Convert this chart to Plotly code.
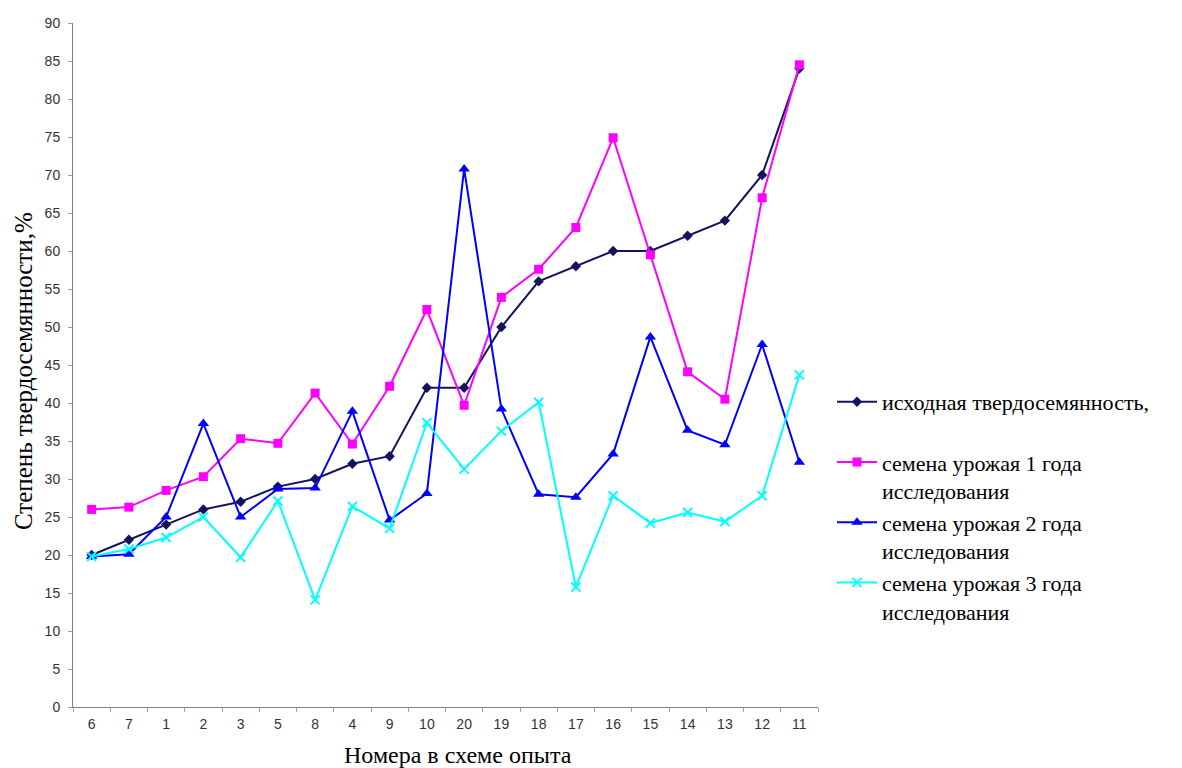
import plotly.graph_objects as go

categories = ["6", "7", "1", "2", "3", "5", "8", "4", "9", "10",
              "20", "19", "18", "17", "16", "15", "14", "13", "12", "11"]

initial = [20, 22, 24, 26, 27, 29, 30, 32, 33, 42,
           42, 50, 56, 58, 60, 60, 62, 64, 70, 84]
year1 = [26.0, 26.3, 28.5, 30.3, 35.3, 34.7, 41.3, 34.6, 42.2, 52.3,
         39.7, 53.9, 57.6, 63.1, 74.9, 59.5, 44.1, 40.5, 67.0, 84.5]
year2 = [19.8, 20.1, 25.0, 37.3, 25.0, 28.7, 28.8, 38.9, 24.6, 28.1,
         70.8, 39.2, 28.0, 27.6, 33.3, 48.7, 36.4, 34.5, 47.7, 32.2]
year3 = [19.8, 20.8, 22.3, 25.0, 19.7, 27.1, 14.1, 26.4, 23.5, 37.4,
         31.3, 36.3, 40.1, 15.8, 27.8, 24.2, 25.6, 24.4, 27.8, 43.7]

names = ["исходная твердосемянность,<br> ",
         "семена урожая 1 года<br>исследования",
         "семена урожая 2 года<br>исследования",
         "семена урожая 3 года<br>исследования"]

y_ticks = list(range(0, 95, 5))

W, H = 1182, 768
ML, MR, MT, MB = 65, 372, 15, 69
OFF = 8  # page body margin
PW, PH = W - ML - MR, H - MT - MB


def px_x(sx):
    return (sx - OFF - ML) / PW


def px_y(sy):
    return (H - MB - (sy - OFF)) / PH


fig = go.Figure()
styles = [
    (initial, "#14145e", dict(symbol="diamond", size=8)),
    (year1, "#ff00ff", dict(symbol="square", size=9)),
    (year2, "#0000ff", dict(symbol="triangle-up", size=10)),
    (year3, "#00ffff", dict(symbol="x-thin-open", size=9, line=dict(width=2, color="#00ffff"))),
]
for i, (vals, col, mk) in enumerate(styles):
    fig.add_trace(go.Scatter(
        x=categories, y=vals, name=names[i], mode="lines+markers",
        line=dict(color=col, width=2), marker=dict(color=col, **mk),
        legendgroup=f"g{i}",
    ))

fig.update_layout(
    width=W, height=H,
    margin=dict(l=ML, r=MR, t=MT, b=MB),
    paper_bgcolor="white", plot_bgcolor="white",
    showlegend=True,
    legend=dict(x=px_x(832), y=px_y(381), xanchor="left", yanchor="top",
                font=dict(family="Liberation Serif", size=22, color="black"),
                valign="top", tracegroupgap=0, itemwidth=40),
    xaxis=dict(type="category", range=[-0.5, 19.5], showgrid=False, automargin=False,
               showline=True, linecolor="#808080", linewidth=1,
               ticks="outside", tickson="boundaries", ticklen=4, tickcolor="#a0a0a0",
               ticklabelstandoff=4,
               tickfont=dict(family="Liberation Sans", size=14, color="#333333")),
    yaxis=dict(range=[0, 90], tickvals=y_ticks, showgrid=False, zeroline=False,
               automargin=False,
               showline=True, linecolor="#808080", linewidth=1,
               ticks="outside", ticklen=4, tickcolor="#a0a0a0",
               ticklabelstandoff=5,
               tickfont=dict(family="Liberation Sans", size=14, color="#333333")),
    annotations=[
        dict(text="Номера в схеме опыта", x=px_x(457.5), y=px_y(755),
             xanchor="center", yanchor="middle",
             xref="paper", yref="paper", showarrow=False,
             font=dict(family="Liberation Serif", size=24, color="black")),
        dict(text="Степень твердосемянности,%", x=px_x(23), y=px_y(371),
             xanchor="center", yanchor="middle",
             xref="paper", yref="paper", showarrow=False, textangle=-90,
             font=dict(family="Liberation Serif", size=25, color="black")),
    ],
)

fig.write_html("out.html")
